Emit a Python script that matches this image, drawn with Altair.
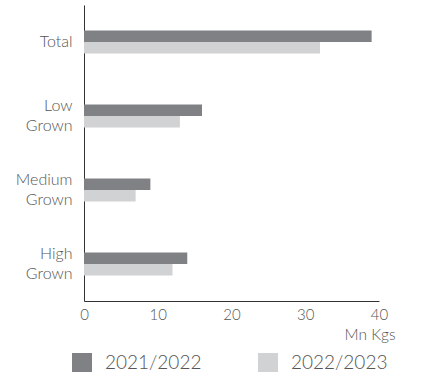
import altair as alt
import pandas as pd

categories = ["Total", "Low Grown", "Medium Grown", "High Grown"]
season_a = [39, 16, 9, 14]
season_b = [32, 13, 7, 12]
seasons = ["2021/2022", "2022/2023"]
colors = ["#808184", "#d1d2d4"]

rows = []
for c, a, b in zip(categories, season_a, season_b):
    rows.append({"cat": c, "season": seasons[0], "val": a})
    rows.append({"cat": c, "season": seasons[1], "val": b})
df = pd.DataFrame(rows)

FONT = "Lato"

chart = alt.Chart(df).mark_bar().encode(
    y=alt.Y("cat:N", sort=categories,
            scale=alt.Scale(paddingInner=0.69, paddingOuter=0.345),
            axis=alt.Axis(title=None, ticks=False, domainColor="#333333",
                          labelExpr="split(datum.label, ' ')",
                          labelFontSize=16, labelColor="#555555", labelFont=FONT,
                          labelFontWeight=300, labelLineHeight=20, labelPadding=12,
                          labelOffset={"condition": {"test": "datum.value == 'Total'", "value": 0},
                                       "value": -10})),
    yOffset=alt.YOffset("season:N", sort=seasons),
    x=alt.X("val:Q", scale=alt.Scale(domain=[0, 40]),
            axis=alt.Axis(values=[0, 10, 20, 30, 40], grid=False, ticks=False,
                          labelFlush=False,
                          domainColor="#333333", labelFontSize=15, labelColor="#555555",
                          labelFont=FONT, labelFontWeight=300, labelPadding=6,
                          title="Mn Kgs", titleFont=FONT, titleFontWeight=300,
                          titleFontSize=15.5, titleColor="#555555", titleAlign="right",
                          titleX=311, titleY=33, titleBaseline="middle")),
    color=alt.Color("season:N", sort=seasons,
                    scale=alt.Scale(domain=seasons, range=colors),
                    legend=alt.Legend(title=None, orient="none", direction="horizontal",
                                      legendX=-12, legendY=348, symbolType="square",
                                      symbolSize=400, symbolStrokeWidth=0,
                                      labelFontSize=19, labelFont=FONT, labelFontWeight=300,
                                      labelColor="#555555", columnPadding=56, padding=0,
                                      labelOffset=13)),
).properties(
    width=295, height=296,
    title=alt.TitleParams("Total Tea Kgs Sold", font=FONT, fontSize=18, fontWeight="bold",
                          color="#222222", anchor="middle", baseline="alphabetic", offset=1),
    autosize=alt.AutoSizeParams(type="none"),
    padding={"left": 84, "top": 5, "right": 56, "bottom": 71},
).configure_view(stroke=None)

chart.save("out.html", embed_options={"renderer": "svg", "actions": False})
